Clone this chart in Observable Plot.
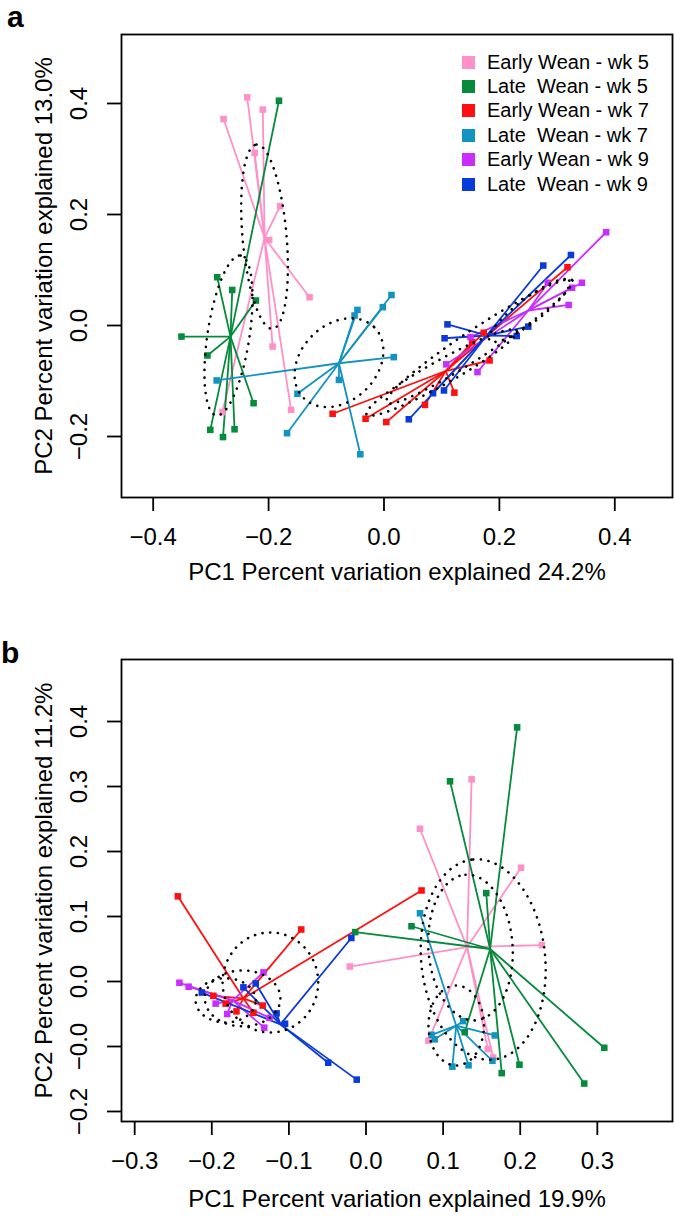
<!DOCTYPE html>
<html><head><meta charset="utf-8">
<script src="https://cdn.jsdelivr.net/npm/d3@7"></script>
<script src="https://cdn.jsdelivr.net/npm/@observablehq/plot@0.6"></script>
<style>
html,body{margin:0;padding:0;background:#fff;}
#wrap{position:relative;width:675px;height:1224px;overflow:hidden;font-family:"Liberation Sans",Arial,Helvetica,sans-serif;color:#000;}
.panel{position:absolute;left:0;}
.tag{position:absolute;font-weight:bold;font-size:30px;line-height:34px;}
.legend{position:absolute;left:462px;top:50px;font-size:20px;}
.legend .row{height:24.4px;display:flex;align-items:center;white-space:pre;}
.legend .sw{width:13px;height:13px;display:inline-block;margin-right:12px;flex:none;}
</style></head>
<body>
<div id="wrap">
  <div class="panel" id="pa" style="top:0"></div>
  <div class="panel" id="pb" style="top:612px"></div>
  <div class="tag" style="left:7px;top:0px">a</div>
  <div class="tag" style="left:1px;top:636px">b</div>
  <div class="legend" id="legend"></div>
</div>
<script>
// ---- groups / colours ----
const groups = ["Early Wean - wk 5", "Late  Wean - wk 5", "Early Wean - wk 7", "Late  Wean - wk 7", "Early Wean - wk 9", "Late  Wean - wk 9"];
const colors = ["#FF91C8", "#068A3B", "#FE1010", "#1393C0", "#C82EFF", "#0A3AD9"];

// ---- panel a : points [PC1, PC2] ----
const aEarly5 = [[-0.237,0.411],[-0.210,0.389],[-0.278,0.372],[-0.224,0.311],[-0.180,0.215],[-0.199,0.154],[-0.129,0.051],[-0.193,-0.038],[-0.161,-0.152],[-0.280,-0.156]];
const aLate5  = [[-0.182,0.405],[-0.289,0.087],[-0.263,0.064],[-0.222,0.045],[-0.351,-0.020],[-0.306,-0.054],[-0.226,-0.140],[-0.301,-0.188],[-0.279,-0.201],[-0.259,-0.187]];
const aEarly7 = [[0.318,0.105],[0.173,-0.013],[0.153,-0.030],[0.183,-0.063],[0.122,-0.121],[0.071,-0.143],[0.004,-0.174],[-0.032,-0.168],[-0.089,-0.159]];
const aLate7  = [[0.013,0.055],[-0.002,0.033],[-0.046,0.028],[-0.051,0.018],[0.017,-0.057],[-0.078,-0.098],[-0.150,-0.123],[-0.290,-0.099],[-0.168,-0.194],[-0.041,-0.232]];
const aEarly9 = [[0.385,0.168],[0.343,0.077],[0.326,0.068],[0.320,0.037],[0.284,0.077],[0.150,-0.021],[0.108,-0.070],[0.162,-0.084]];
const aLate9  = [[0.324,0.127],[0.276,0.108],[0.110,0.002],[0.105,-0.023],[0.230,-0.019],[0.250,-0.002],[0.104,-0.117],[0.085,-0.122],[0.043,-0.169]];
const aCentroids = [[-0.207,0.158],[-0.266,-0.020],[0.107,-0.082],[-0.078,-0.068],[0.250,0.027],[0.178,-0.018]];
// ellipses: [cx, cy, axisA_x, axisA_y, axisB_x, axisB_y]
const aEllipses = [[-0.207,0.160,-0.014,0.166,0.038,0.0036],[-0.2695,-0.018,0.021,0.144,0.036,-0.0054],[0.0997,-0.0847,0.130,0.0757,0.0102,-0.0189],[-0.078,-0.067,0.061,0.064,0.047,-0.048],[0.252,0.027,0.069,0.054,0.0125,-0.0173],[0.1655,-0.0288,0.161,0.110,0.0133,-0.0211]];
const aXTicks = [-0.4,-0.2,0.0,0.2,0.4];
const aXTickLabels = ["\u22120.4","\u22120.2","0.0","0.2","0.4"];
const aYTicks = [0.4,0.2,0.0,-0.2];
const aYTickLabels = ["0.4","0.2","0.0","\u22120.2"];
const aXTitle = "PC1 Percent variation explained 24.2%";
const aYTitle = "PC2 Percent variation explained 13.0%";

// ---- panel b ----
const bEarly5 = [[0.137,0.311],[0.070,0.235],[0.201,0.175],[0.228,0.056],[-0.021,0.023],[0.081,-0.091],[0.158,-0.104],[0.165,-0.117]];
const bLate5  = [[0.196,0.391],[0.109,0.308],[0.156,0.136],[0.059,0.085],[-0.014,0.076],[0.128,-0.078],[0.176,-0.141],[0.199,-0.128],[0.283,-0.157],[0.309,-0.102]];
const bEarly7 = [[-0.244,0.131],[-0.084,0.080],[0.072,0.140],[-0.168,-0.046],[-0.134,-0.037],[-0.146,-0.048],[-0.198,-0.022],[-0.182,-0.034]];
const bLate7  = [[0.070,0.105],[0.085,-0.082],[0.089,-0.089],[0.126,-0.061],[0.167,-0.083],[0.164,-0.122],[0.112,-0.131],[0.133,-0.129]];
const bEarly9 = [[-0.242,-0.002],[-0.230,-0.008],[-0.180,-0.050],[-0.132,-0.071],[-0.125,-0.056],[-0.133,0.014],[-0.195,-0.034]];
const bLate9  = [[-0.019,0.067],[-0.116,-0.049],[-0.105,-0.065],[-0.049,-0.125],[-0.012,-0.151],[-0.213,-0.017],[-0.159,-0.009],[-0.143,-0.003]];
const bCentroids = [[0.131,0.053],[0.161,0.050],[-0.159,-0.026],[0.117,-0.068],[-0.173,-0.029],[-0.111,-0.066]];
const bEllipses = [[0.1355,0.0523,-0.0065,0.112,0.0545,0.0046],[0.152,0.0338,-0.013,0.154,0.080,0.0092],[-0.160,-0.026,0.049,0,0,0.043],[0.117,-0.0677,0.036,0,0,0.0615],[-0.182,-0.029,0.039,0,0,0.034],[-0.124,-0.0015,0.062,0,0,0.077]];
const bXTicks = [-0.3,-0.2,-0.1,0.0,0.1,0.2,0.3];
const bXTickLabels = ["\u22120.3","\u22120.2","\u22120.1","0.0","0.1","0.2","0.3"];
const bYTicks = [0.4,0.3,0.2,0.1,0.0,-0.1,-0.2];
const bYTickLabels = ["0.4","0.3","0.2","0.1","0.0","\u22120.0","\u22120.2"];
const bXTitle = "PC1 Percent variation explained 19.9%";
const bYTitle = "PC2 Percent variation explained 11.2%";

const FONT = '"Liberation Sans", Arial, Helvetica, sans-serif';

function panel(points, centroids, ellipses, cfg) {
  const pts = [], links = [], ell = [];
  groups.forEach((g, i) => {
    const c = centroids[i];
    points[i].forEach(([x, y]) => {
      pts.push({g, x, y});
      links.push({g, x1: c[0], y1: c[1], x2: x, y2: y});
    });
    const [cx, cy, ax, ay, bx, by] = ellipses[i];
    for (let k = 0; k < 180; k++) {
      const t = 2 * Math.PI * k / 180;
      ell.push({k: i, x: cx + ax * Math.cos(t) + bx * Math.sin(t), y: cy + ay * Math.cos(t) + by * Math.sin(t)});
    }
  });
  return Plot.plot({
    width: 675, height: 612,
    marginLeft: 121, marginRight: 3, marginTop: cfg.mt, marginBottom: cfg.mb,
    x: {domain: cfg.xd},
    y: {domain: cfg.yd},
    color: {domain: groups, range: colors},
    style: {fontFamily: FONT, background: "white", color: "black"},
    marks: [
      Plot.link(links, {x1: "x1", y1: "y1", x2: "x2", y2: "y2", stroke: "g", strokeWidth: 1.8}),
      Plot.dot(pts, {x: "x", y: "y", fill: "g", symbol: "square", r: 3.7}),
      Plot.line(ell, {x: "x", y: "y", z: "k", stroke: "black", strokeWidth: 2.6, strokeDasharray: "0.1 7.6", strokeLinecap: "round", curve: "linear-closed"}),
      Plot.frame({stroke: "black", strokeWidth: 1.8}),
      Plot.axisX({ticks: cfg.xt, anchor: "bottom", tickSize: 14, strokeWidth: 1.8, tickFormat: () => "", label: null}),
      Plot.axisY({ticks: cfg.yt, anchor: "left", tickSize: 14, strokeWidth: 1.8, tickFormat: () => "", label: null}),
      Plot.text(cfg.xt, {x: d => d, frameAnchor: "bottom", dy: 47, textAnchor: "middle", text: d => cfg.xl[cfg.xt.indexOf(d)], fontSize: 24}),
      Plot.text(cfg.yt, {y: d => d, frameAnchor: "left", dx: -42, rotate: -90, textAnchor: "middle", text: d => cfg.yl[cfg.yt.indexOf(d)], fontSize: 24}),
      Plot.text([cfg.xTitle], {frameAnchor: "bottom", dy: cfg.xtdy, textAnchor: "middle", text: d => d, fontSize: 24}),
      Plot.text([cfg.yTitle], {frameAnchor: "left", dx: -77, rotate: -90, textAnchor: "middle", text: d => d, fontSize: 24})
    ]
  });
}

document.getElementById("pa").appendChild(panel(
  [aEarly5, aLate5, aEarly7, aLate7, aEarly9, aLate9], aCentroids, aEllipses,
  {mt: 34, mb: 115, xd: [-0.4549, 0.5], yd: [-0.3099, 0.5243], xt: aXTicks, xl: aXTickLabels, yt: aYTicks, yl: aYTickLabels, xTitle: aXTitle, yTitle: aYTitle, xtdy: 82}
));
document.getElementById("pb").appendChild(panel(
  [bEarly5, bLate5, bEarly7, bLate7, bEarly9, bLate9], bCentroids, bEllipses,
  {mt: 47, mb: 103, xd: [-0.3171, 0.3975], yd: [-0.2154, 0.4954], xt: bXTicks, xl: bXTickLabels, yt: bYTicks, yl: bYTickLabels, xTitle: bXTitle, yTitle: bYTitle, xtdy: 85}
));

const leg = document.getElementById("legend");
groups.forEach((g, i) => {
  const row = document.createElement("div");
  row.className = "row";
  const sw = document.createElement("span");
  sw.className = "sw"; sw.style.background = colors[i];
  const tx = document.createElement("span");
  tx.textContent = g;
  row.appendChild(sw); row.appendChild(tx);
  leg.appendChild(row);
});
</script>
</body></html>
